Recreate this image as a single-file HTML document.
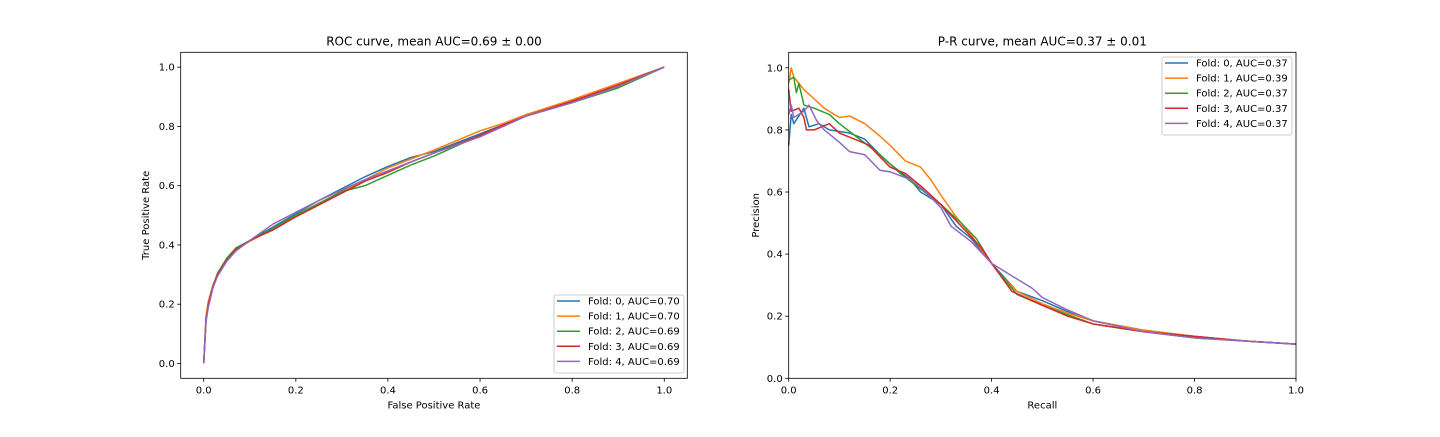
<!DOCTYPE html>
<html><head><meta charset="utf-8"><style>
body{margin:0;background:#fff;}
svg text{font-family:"DejaVu Sans","Liberation Sans",sans-serif;fill:#000;}
</style></head><body>
<svg id="fig" width="1440" height="432" xmlns="http://www.w3.org/2000/svg"></svg>
<script>
const colors=["#1f77b4","#ff7f0e","#2ca02c","#d62728","#9467bd"];
const rocLabels=["Fold: 0, AUC=0.70","Fold: 1, AUC=0.70","Fold: 2, AUC=0.69","Fold: 3, AUC=0.69","Fold: 4, AUC=0.69"];
const prLabels=["Fold: 0, AUC=0.37","Fold: 1, AUC=0.39","Fold: 2, AUC=0.37","Fold: 3, AUC=0.37","Fold: 4, AUC=0.37"];
const ticks=[0,0.2,0.4,0.6,0.8,1.0];
const rocFpr=[0,0.005,0.01,0.02,0.03,0.05,0.07,0.1,0.15,0.2,0.25,0.3,0.35,0.4,0.45,0.5,0.6,0.65,0.7,0.8,0.9,1];
const rocTpr0=[0,0.15,0.2,0.26,0.3,0.35,0.385,0.415,0.46,0.505,0.55,0.59,0.63,0.665,0.695,0.715,0.775,0.805,0.835,0.885,0.935,1];
const rocTpr1=[0,0.16,0.21,0.265,0.3,0.35,0.385,0.412,0.455,0.5,0.54,0.58,0.62,0.66,0.69,0.72,0.785,0.81,0.84,0.89,0.945,1];
const rocTpr2=[0,0.15,0.2,0.26,0.305,0.355,0.39,0.415,0.455,0.5,0.54,0.58,0.6,0.635,0.67,0.7,0.77,0.8,0.835,0.88,0.93,1];
const rocTpr3=[0,0.15,0.2,0.26,0.3,0.35,0.385,0.415,0.45,0.495,0.535,0.575,0.615,0.645,0.68,0.71,0.77,0.805,0.835,0.885,0.94,1];
const rocTpr4=[0,0.14,0.19,0.255,0.295,0.345,0.38,0.415,0.47,0.51,0.55,0.585,0.62,0.65,0.68,0.71,0.765,0.8,0.835,0.88,0.935,1];
const prRec0=[0,0.005,0.01,0.03,0.04,0.06,0.08,0.12,0.15,0.18,0.2,0.24,0.26,0.3,0.33,0.36,0.4,0.45,0.5,0.55,0.6,0.7,0.8,0.9,1];
const prPre0=[0.75,0.85,0.82,0.87,0.81,0.82,0.8,0.79,0.77,0.72,0.69,0.64,0.6,0.56,0.49,0.45,0.37,0.28,0.25,0.215,0.185,0.155,0.135,0.12,0.11];
const prRec1=[0,0.005,0.01,0.02,0.03,0.05,0.07,0.1,0.12,0.15,0.18,0.2,0.23,0.26,0.28,0.3,0.33,0.36,0.4,0.42,0.45,0.5,0.55,0.6,0.7,0.8,0.9,1];
const prPre1=[0.95,1.0,0.97,0.95,0.93,0.9,0.87,0.84,0.845,0.82,0.78,0.75,0.7,0.68,0.64,0.59,0.52,0.46,0.37,0.33,0.28,0.24,0.21,0.185,0.155,0.135,0.12,0.11];
const prRec2=[0,0.01,0.015,0.02,0.03,0.05,0.08,0.1,0.14,0.18,0.22,0.26,0.3,0.34,0.37,0.4,0.45,0.5,0.55,0.6,0.7,0.8,0.9,1];
const prPre2=[0.96,0.97,0.92,0.95,0.88,0.87,0.85,0.82,0.77,0.72,0.66,0.61,0.56,0.5,0.45,0.37,0.27,0.235,0.205,0.175,0.15,0.13,0.12,0.11];
const prRec3=[0,0.005,0.02,0.03,0.035,0.05,0.08,0.1,0.13,0.16,0.17,0.2,0.23,0.26,0.3,0.34,0.38,0.4,0.44,0.5,0.55,0.6,0.7,0.8,0.9,1];
const prPre3=[0.93,0.86,0.87,0.84,0.8,0.8,0.82,0.79,0.77,0.75,0.73,0.68,0.66,0.62,0.56,0.49,0.42,0.37,0.28,0.235,0.2,0.175,0.15,0.135,0.12,0.11];
const prRec4=[0,0.005,0.01,0.03,0.04,0.055,0.07,0.1,0.12,0.15,0.18,0.2,0.24,0.27,0.3,0.32,0.36,0.4,0.44,0.48,0.5,0.55,0.6,0.7,0.8,0.9,1];
const prPre4=[0.85,0.88,0.84,0.86,0.88,0.83,0.8,0.76,0.73,0.72,0.67,0.665,0.64,0.6,0.55,0.49,0.44,0.37,0.33,0.29,0.26,0.22,0.185,0.15,0.13,0.12,0.11];

const NS="http://www.w3.org/2000/svg";
const svg=document.getElementById('fig');
function mk(tag,attrs,parent){const e=document.createElementNS(NS,tag);for(const k in attrs)e.setAttribute(k,attrs[k]);(parent||svg).appendChild(e);return e;}

function drawAxes(o){
  const g=mk('g',{});
  
  
  const X=v=>o.x0+(v-o.xmin)/(o.xmax-o.xmin)*(o.x1-o.x0);
  const Y=v=>o.y1-(v-o.ymin)/(o.ymax-o.ymin)*(o.y1-o.y0);
  // ticks
  ticks.forEach(t=>{
    const xt=X(t);
    mk('line',{x1:xt,x2:xt,y1:o.y1,y2:o.y1+3.5,stroke:'#000','stroke-width':0.8},g);
    const tx=mk('text',{x:xt,y:o.y1+15,'font-size':10,'text-anchor':'middle'},g);tx.textContent=t.toFixed(1);
    
    
    const yt=Y(t);
    mk('line',{x1:o.x0,x2:o.x0-3.5,y1:yt,y2:yt,stroke:'#000','stroke-width':0.8},g);
    const ty=mk('text',{x:o.x0-6,y:yt+3.5,'font-size':10,'text-anchor':'end'},g);ty.textContent=t.toFixed(1);
    
    
  });
  // series
  o.series.forEach((s,i)=>{
    const pts=s.x.map((v,j)=>X(v).toFixed(2)+','+Y(s.y[j]).toFixed(2)).join(' ');
    const pl=mk('polyline',{points:pts,fill:'none',stroke:colors[i],'stroke-width':1.5,'stroke-linejoin':'round'},g);
    
    
  });
  mk('rect',{x:o.x0,y:o.y0,width:o.x1-o.x0,height:o.y1-o.y0,fill:'none',stroke:'#000','stroke-width':0.8},g);
  const t=mk('text',{x:(o.x0+o.x1)/2,y:o.y0-7,'font-size':12,'text-anchor':'middle'},g);t.textContent=o.title;
  
  
  const xl=mk('text',{x:(o.x0+o.x1)/2,y:o.y1+30,'font-size':10,'text-anchor':'middle'},g);xl.textContent=o.xlabel;
  
  
  const cy=(o.y0+o.y1)/2;
  const yl=mk('text',{x:o.ylx,y:cy,'font-size':10,'text-anchor':'middle',transform:'rotate(-90 '+o.ylx+' '+cy+')'},g);yl.textContent=o.ylabel;
  
  
  // legend
  const lg=mk('g',{},g);
  
  
  mk('rect',{x:o.lx,y:o.ly,width:130,height:78,rx:2,fill:'#fff','fill-opacity':0.8,stroke:'#ccc','stroke-width':1},lg);
  o.labels.forEach((l,i)=>{
    const ry=o.ly+6+i*15.1;
    const e=mk('g',{},lg);
    
    
    mk('line',{x1:o.lx+3,x2:o.lx+26,y1:ry,y2:ry,stroke:colors[i],'stroke-width':1.5},e);
    const tt=mk('text',{x:o.lx+34,y:ry+3.5,'font-size':10},e);tt.textContent=l;
  });
}
drawAxes({name:'roc-chart',x0:180.7,x1:687.3,y0:52.3,y1:378.3,xmin:-0.05,xmax:1.05,ymin:-0.05,ymax:1.05,
  title:'ROC curve, mean AUC=0.69 \u00b1 0.00',xlabel:'False Positive Rate',ylabel:'True Positive Rate',ylx:149,
  series:[{x:rocFpr,y:rocTpr0},{x:rocFpr,y:rocTpr1},{x:rocFpr,y:rocTpr2},{x:rocFpr,y:rocTpr3},{x:rocFpr,y:rocTpr4}],
  labels:rocLabels,lx:554,ly:295});
drawAxes({name:'pr-chart',x0:788.7,x1:1296,y0:52.3,y1:378.3,xmin:0,xmax:1,ymin:0,ymax:1.05,
  title:'P-R curve, mean AUC=0.37 \u00b1 0.01',xlabel:'Recall',ylabel:'Precision',ylx:759,
  series:[{x:prRec0,y:prPre0},{x:prRec1,y:prPre1},{x:prRec2,y:prPre2},{x:prRec3,y:prPre3},{x:prRec4,y:prPre4}],
  labels:prLabels,lx:1162,ly:57});
</script>
</body></html>
